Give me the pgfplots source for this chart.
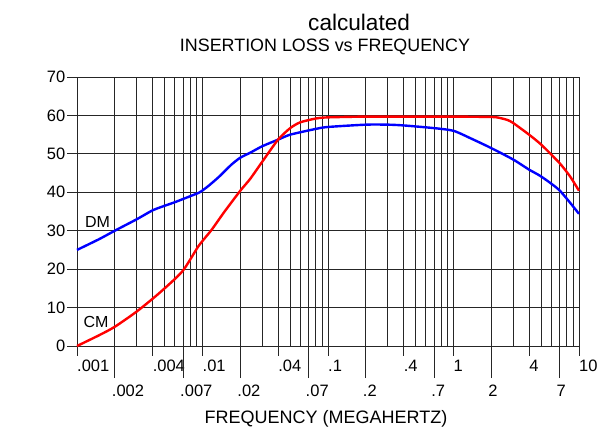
\documentclass[border=0pt]{standalone}
\usepackage{fontspec}
\setmainfont{Liberation Sans}
\usepackage{pgfplots}
\pgfplotsset{compat=1.18}
\begin{document}
\begin{tikzpicture}
\useasboundingbox (-77bp,-83bp) rectangle (531bp,346bp);
\begin{axis}[
  at={(0,0)}, anchor=south west,
  scale only axis, width=502bp, height=269bp,
  clip=false,
  xmode=log, log basis x=10,
  xmin=0.001, xmax=10, ymin=0, ymax=70,
  xtick={0.001,0.004,0.01,0.04,0.1,0.4,1,4,10},
  xticklabels={.001,.004,.01,.04,.1,.4,1,4,10},
  extra x ticks={0.002,0.007,0.02,0.07,0.2,0.7,2,7},
  extra x tick labels={.002,.007,.02,.07,.2,.7,2,7},
  extra x tick style={major tick length=32bp,
    xticklabel style={xshift=-3bp, yshift=-3bp}},
  minor xtick={0.002,0.003,0.004,0.005,0.006,0.007,0.008,0.009,
    0.02,0.03,0.04,0.05,0.06,0.07,0.08,0.09,
    0.2,0.3,0.4,0.5,0.6,0.7,0.8,0.9,
    2,3,4,5,6,7,8,9},
  ytick={0,10,...,70},
  grid=both,
  major grid style={black!85, line width=0.8pt},
  minor grid style={black!85, line width=0.8pt},
  axis line style={black!85, line width=0.8pt},
  tick style={black!85, line width=0.8pt},
  tick align=outside, tick pos=left,
  major tick length=9.5bp, minor tick length=0pt,
  ticklabel style={font=\fontsize{16.5bp}{19bp}\selectfont, inner sep=0pt},
  xticklabel style={anchor=north west, yshift=-4bp},
  yticklabel style={anchor=east, xshift=-2bp},
  /pgf/number format/assume math mode=true,
  xlabel={FREQUENCY (MEGAHERTZ)},
  xlabel style={at={(axis description cs:0.496,0)}, anchor=base,
    yshift=-77.3bp, font=\fontsize{18bp}{21bp}\selectfont},
  ylabel={INSERTION LOSS (db)},
  ylabel style={at={(axis description cs:0,0)}, anchor=center,
    xshift=-52bp, yshift=122bp, font=\fontsize{18bp}{21bp}\selectfont},
  title={INSERTION LOSS vs FREQUENCY},
  title style={at={(axis description cs:0.494,1)}, anchor=base,
    yshift=19.3bp, font=\fontsize{17.9bp}{21bp}\selectfont},
]
% DM
\addplot[blue, line width=2.4bp, smooth, tension=0.4] coordinates {
  (0.001,25) (0.0015,27.8) (0.002,30) (0.003,33) (0.004,35.3)
  (0.005,36.5) (0.006,37.4) (0.008,39) (0.0095,40) (0.011,41.5)
  (0.0135,44) (0.017,47.2) (0.02,49) (0.024,50.3) (0.03,52)
  (0.04,53.7) (0.05,55) (0.08,56.5) (0.1,57) (0.2,57.6) (0.3,57.6)
  (0.4,57.4) (0.7,56.7) (1,56) (1.4,53.9) (2,51.5) (3,48.5)
  (4,45.9) (5,44.1) (7,40.5) (10,34.4)};
% CM
\addplot[red, line width=2.4bp, smooth, tension=0.4] coordinates {
  (0.001,0) (0.0015,2.8) (0.002,5) (0.003,9) (0.0045,13.7)
  (0.0069,19.4) (0.0093,26) (0.0118,30.2) (0.015,35) (0.02,40.4)
  (0.024,43.5) (0.03,48) (0.04,53.7) (0.05,56.7) (0.06,58.2)
  (0.08,59.2) (0.1,59.5) (0.2,59.7) (0.5,59.7) (1,59.7) (2,59.6)
  (2.3,59.4) (2.7,58.8) (3,58) (4,55) (5,52.4) (7,47.6) (8.5,44.1) (10,40.4)};
\node[font=\fontsize{16bp}{19bp}\selectfont, inner sep=0pt]
  at (axis description cs:0.0408,0.461) {DM};
\node[font=\fontsize{16bp}{19bp}\selectfont, inner sep=0pt]
  at (axis description cs:0.0378,0.0892) {CM};
\node[font=\fontsize{22.6bp}{26bp}\selectfont, anchor=base, yshift=47bp]
  at (axis description cs:0.562,1) {calculated};
\end{axis}
\end{tikzpicture}
\end{document}
